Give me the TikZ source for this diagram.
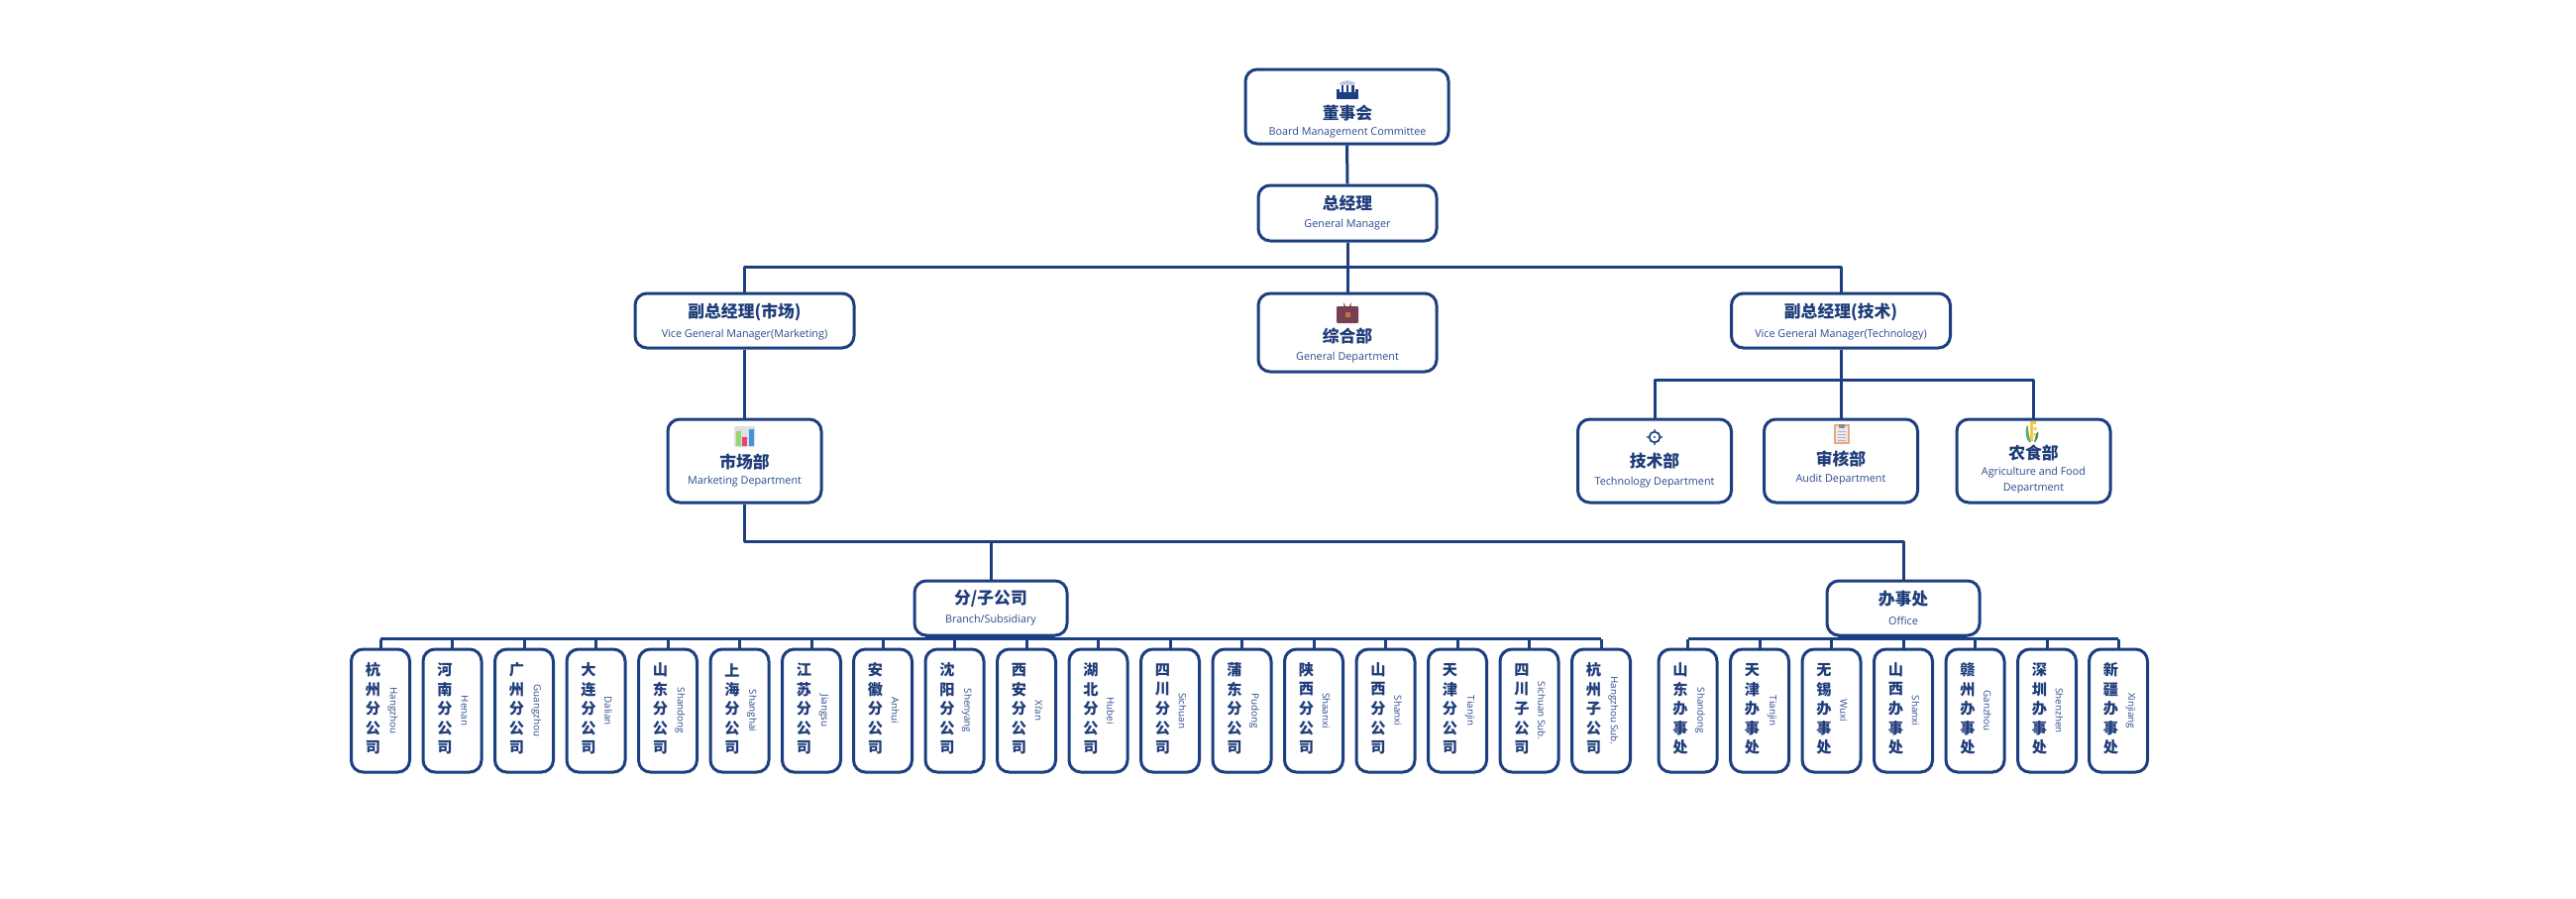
\documentclass[tikz,border=0pt]{standalone}
\usepackage{fontspec}
\newfontfamily\cjk{Noto Sans CJK SC}
\setmainfont{Open Sans}
\definecolor{navy}{HTML}{1C3F82}
\definecolor{txt}{HTML}{1F3D7A}
\definecolor{sub}{HTML}{2A4A8C}
\tikzset{
  box/.style={draw=navy,line width=3pt,rounded corners=12pt,fill=white,inner sep=0pt},
  wire/.style={draw=navy,line width=3pt,line join=round},
  title/.style={text=txt,inner sep=0pt,font=\cjk\fontsize{16.8}{18}\selectfont\bfseries},
  engl/.style={text=sub,inner sep=0pt,align=center,yshift=-1pt,font=\fontsize{10.8}{16}\selectfont},
  cell/.style={text=txt,inner sep=0pt,font=\cjk\fontsize{15.2}{17}\selectfont\bfseries},
  vert/.style={text=sub,inner sep=0pt,rotate=-90,font=\fontsize{9.8}{12}\selectfont},
}
% a small box with five stacked characters and a rotated English name
\newcommand{\smallbox}[8]{%
  \node[box,minimum width=59pt,minimum height=124pt] (#1) at (#2,717) {};
  \node[cell] (#1a) at (#2-7.5,676) {#3};
  \node[cell] (#1b) at (#2-7.5,695.5) {#4};
  \node[cell] (#1c) at (#2-7.5,715) {#5};
  \node[cell] (#1d) at (#2-7.5,734.5) {#6};
  \node[cell] (#1e) at (#2-7.5,754) {#7};
  \node[vert] (#1v) at (#2+12.5,717) {#8};
  \draw[wire] (#1.north) -- ++(0,-9);
}
\begin{document}
\begin{tikzpicture}[x=1pt,y=-1pt]
\useasboundingbox (0,0) rectangle (2600,906);
\fill[white] (0,0) rectangle (2600,906);

% bus points
\coordinate (busA) at (1360,269);
\coordinate (busB) at (1858,383);
\coordinate (busC) at (1000,546);
\coordinate (busD) at (751.5,546);

% main boxes
\node[box,minimum width=205pt,minimum height=75pt] (board) at (1359.5,107.5) {};
\node[box,minimum width=180pt,minimum height=56pt] (gm) at (1360,215) {};
\node[box,minimum width=180pt,minimum height=79pt] (gd) at (1360,335.5) {};
\node[box,minimum width=221pt,minimum height=55pt] (vm) at (751.5,323.5) {};
\node[box,minimum width=221pt,minimum height=55pt] (vt) at (1858,323.5) {};
\node[box,minimum width=155pt,minimum height=84pt] (mk) at (751.5,465) {};
\node[box,minimum width=155pt,minimum height=84pt] (td) at (1670,465) {};
\node[box,minimum width=155pt,minimum height=84pt] (ad) at (1858,465) {};
\node[box,minimum width=155pt,minimum height=84pt] (ag) at (2052.5,465) {};
\node[box,minimum width=154pt,minimum height=55pt] (br) at (1000,613.5) {};
\node[box,minimum width=154pt,minimum height=55pt] (of) at (1921,613.5) {};

% connectors
\draw[wire] (board.south) -- (gm.north);
\draw[wire] (gm.south) -- (gd.north);
\draw[wire] (vm.north) |- (busA) -| (vt.north);
\draw[wire] (vm.south) -- (mk.north);
\draw[wire] (vt.south) -- (ad.north);
\draw[wire] (td.north) |- (busB) -| (ag.north);
\draw[wire] (mk.south) -- (busD) -| (of.north);
\draw[wire] (busC) -- (br.north);

% titles
\node[title] (t1) at (1360,114) {董事会};
\node[engl] (e1) at (1360,132.5) {Board Management Committee};
\node[title] (t2) at (1360,205) {总经理};
\node[engl] (e2) at (1360,225.5) {General Manager};
\node[title] (t3) at (1360,339) {综合部};
\node[engl] (e3) at (1360,360) {General Department};
\node[title] (t4) at (751.5,315) {副总经理(市场)};
\node[engl] (e4) at (751.5,336.5) {Vice General Manager(Marketing)};
\node[title] (t5) at (1858,315) {副总经理(技术)};
\node[engl] (e5) at (1858,336.5) {Vice General Manager(Technology)};
\node[title] (t6) at (751.5,466) {市场部};
\node[engl] (e6) at (751.5,485) {Marketing Department};
\node[title] (t7) at (1670,465.5) {技术部};
\node[engl] (e7) at (1670,485.5) {Technology Department};
\node[title] (t8) at (1858,463) {审核部};
\node[engl] (e8) at (1858,483) {Audit Department};
\node[title] (t9) at (2052.5,457) {农食部};
\node[engl] (e9) at (2052.5,484) {Agriculture and Food\\Department};
\node[title] (t10) at (1000,604) {分/子公司};
\node[engl] (e10) at (1000,625) {Branch/Subsidiary};
\node[title] (t11) at (1921,604) {办事处};
\node[engl] (e11) at (1921,625) {Office};

% branch row
\smallbox{a}{384}{杭}{州}{分}{公}{司}{Hangzhou}
\smallbox{b}{456.5}{河}{南}{分}{公}{司}{Henan}
\smallbox{c}{529}{广}{州}{分}{公}{司}{Guangzhou}
\smallbox{d}{601.5}{大}{连}{分}{公}{司}{Dalian}
\smallbox{e}{674}{山}{东}{分}{公}{司}{Shandong}
\smallbox{f}{746.5}{上}{海}{分}{公}{司}{Shanghai}
\smallbox{g}{819}{江}{苏}{分}{公}{司}{Jiangsu}
\smallbox{h}{891}{安}{徽}{分}{公}{司}{Anhui}
\smallbox{i}{963.5}{沈}{阳}{分}{公}{司}{Shenyang}
\smallbox{j}{1036}{西}{安}{分}{公}{司}{Xi'an}
\smallbox{k}{1108.5}{湖}{北}{分}{公}{司}{Hubei}
\smallbox{l}{1181}{四}{川}{分}{公}{司}{Sichuan}
\smallbox{m}{1253.5}{蒲}{东}{分}{公}{司}{Pudong}
\smallbox{n}{1326}{陕}{西}{分}{公}{司}{Shaanxi}
\smallbox{o}{1398.5}{山}{西}{分}{公}{司}{Shanxi}
\smallbox{p}{1471}{天}{津}{分}{公}{司}{Tianjin}
\smallbox{q}{1543.5}{四}{川}{子}{公}{司}{Sichuan Sub.}
\smallbox{r}{1616}{杭}{州}{子}{公}{司}{Hangzhou Sub.}
% office row
\smallbox{s}{1703.5}{山}{东}{办}{事}{处}{Shandong}
\smallbox{u}{1776}{天}{津}{办}{事}{处}{Tianjin}
\smallbox{v}{1848.5}{无}{锡}{办}{事}{处}{Wuxi}
\smallbox{w}{1921}{山}{西}{办}{事}{处}{Shanxi}
\smallbox{x}{1993.5}{赣}{州}{办}{事}{处}{Ganzhou}
\smallbox{y}{2066}{深}{圳}{办}{事}{处}{Shenzhen}
\smallbox{z}{2138}{新}{疆}{办}{事}{处}{Xinjiang}

% row buses
\draw[wire] (a.north) ++(0,-9) -- ++(1232,0);
\draw[wire] (s.north) ++(0,-9) -- ++(434.5,0);
\draw[wire,line width=4.5pt] (br.south west) ++(12,0.5) -- ++(130,0);
\draw[wire,line width=4.5pt] (of.south west) ++(12,0.5) -- ++(130,0);

% icons: board
\fill[navy] (1349,90) rectangle (1371,100);
\fill[navy!30] (1352,85.5) -- (1353,83) -- (1360,81) -- (1367,83) -- (1368,85.5) -- cycle;
\fill[white] (1352,85.5) rectangle (1368,95);
\fill[navy] (1352,93) rectangle (1368,95);
\fill[navy] (1353.5,85.5) rectangle (1356,93);
\fill[navy] (1358.75,85.5) rectangle (1361.25,93);
\fill[navy] (1364,85.5) rectangle (1366.5,93);
% icons: briefcase
\draw[draw=brown!60!black,line width=1.2pt] (1357,309) -- (1357,308) arc (180:0:3) -- (1363,309);
\fill[rounded corners=1pt,fill={rgb,255:red,121;green,64;blue,82}] (1349,309) rectangle (1371,326);
\fill[fill={rgb,255:red,196;green,112;blue,72}] (1357.5,315) rectangle (1362.5,320);
% icons: chart
\fill[rounded corners=1.5pt,fill=black!12] (741,430) rectangle (762,451);
\fill[fill={rgb,255:red,150;green,215;blue,110}] (742.5,435) rectangle (747.5,450);
\fill[fill={rgb,255:red,236;green,64;blue,122}] (749,441) rectangle (754,450);
\fill[fill={rgb,255:red,60;green,150;blue,225}] (756,433) rectangle (761,450);
% icons: gear
\fill[navy!70] (1669.25,433) rectangle (1670.75,436);
\fill[navy!70] (1669.25,446) rectangle (1670.75,449);
\fill[navy!70] (1662,440.25) rectangle (1665,441.75);
\fill[navy!70] (1675,440.25) rectangle (1678,441.75);
\draw[draw=navy,line width=1.7pt,fill=white] (1670,441) circle [radius=5.4pt];
\fill[navy] (1670,441) circle [radius=1.2pt];
% icons: clipboard
\fill[fill={rgb,255:red,232;green,170;blue,120}] (1851,428) rectangle (1867,448);
\fill[fill={rgb,255:red,238;green,230;blue,240}] (1853,430) rectangle (1865,446);
\fill[black!45] (1856,428) rectangle (1862,432);
\foreach \yy in {434.5,437.5,440.5,443.5}{\fill[black!30] (1855,\yy) rectangle (1863,\yy+1);}
% icons: wheat
\fill[fill={rgb,255:red,90;green,170;blue,110}] (2045,431) .. controls (2044,437) and (2045,443) .. (2048,446) -- (2050,446) .. controls (2048,441) and (2047,436) .. (2047,429) -- cycle;
\fill[fill={rgb,255:red,70;green,140;blue,90}] (2054,446) .. controls (2057,443) and (2058,438) .. (2057,435) -- (2055,438) -- (2053,446) -- cycle;
\fill[fill={rgb,255:red,245;green,200;blue,70}] (2049,425) rectangle (2055,428);
\fill[fill={rgb,255:red,245;green,200;blue,70}] (2049,425) rectangle (2051.5,445);
\fill[fill={rgb,255:red,245;green,215;blue,110}] (2051,431) rectangle (2056,433.5);
\fill[fill={rgb,255:red,245;green,215;blue,110}] (2051,437) rectangle (2055,439.5);
\end{tikzpicture}
\end{document}
